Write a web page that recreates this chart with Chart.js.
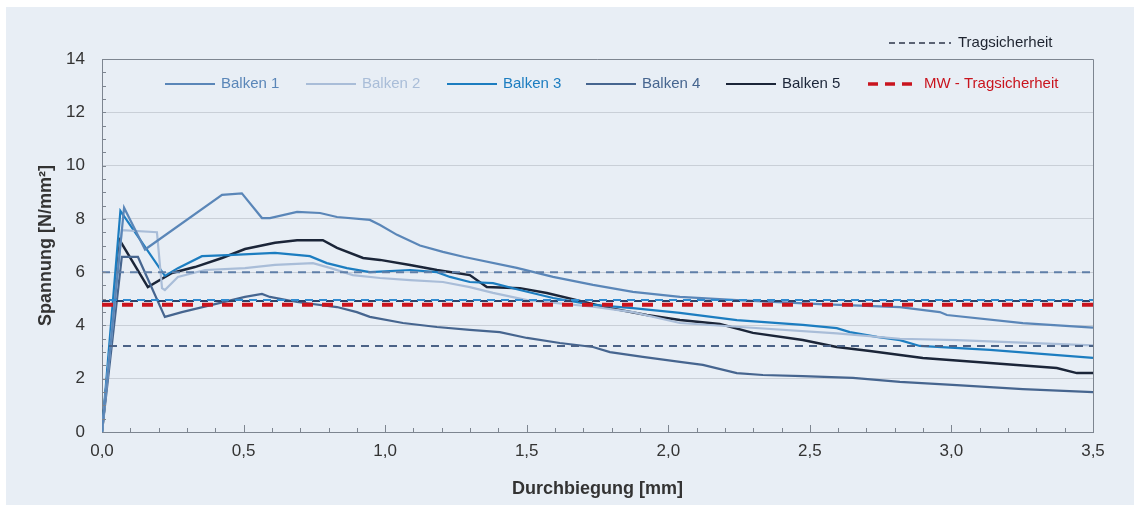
<!DOCTYPE html>
<html>
<head>
<meta charset="utf-8">
<script src="https://cdn.jsdelivr.net/npm/chart.js@4.4.1/dist/chart.umd.min.js"></script>
<style>
  html, body { margin: 0; padding: 0; background: #fff; }
  #panel { position: absolute; left: 6px; top: 7px; width: 1128px; height: 498px; background: #e8eef5; }
  #wrap { position: absolute; left: 0; top: 0; width: 1134px; height: 510px; }
</style>
</head>
<body>
<div id="panel"></div>
<div id="wrap"><canvas id="chart" width="1134" height="510"></canvas></div>
<script>
// Spannung-Durchbiegung, Balken 1-5

const b1X = [0, 0.078, 0.152, 0.424, 0.494, 0.565, 0.593, 0.689, 0.770, 0.830, 0.946, 0.982, 1.042, 1.123, 1.204, 1.28, 1.465, 1.593, 1.734, 1.875, 2.041, 2.242, 2.535, 2.818, 2.959, 2.984, 3.252, 3.5];
const b1Y = [0, 8.42, 6.85, 8.9, 8.96, 8.03, 8.03, 8.26, 8.22, 8.07, 7.96, 7.77, 7.4, 7.0, 6.76, 6.57, 6.16, 5.82, 5.52, 5.26, 5.07, 4.95, 4.8, 4.69, 4.5, 4.39, 4.09, 3.92];

const b2X = [0, 0.07, 0.194, 0.212, 0.222, 0.268, 0.364, 0.505, 0.611, 0.745, 0.805, 0.886, 0.982, 1.088, 1.204, 1.299, 1.381, 1.501, 1.734, 1.875, 2.041, 2.242, 2.595, 2.818, 3.019, 3.5];
const b2Y = [0, 7.58, 7.5, 5.4, 5.33, 5.82, 6.08, 6.15, 6.27, 6.34, 6.16, 5.89, 5.78, 5.7, 5.63, 5.44, 5.22, 4.95, 4.7, 4.5, 4.09, 3.95, 3.7, 3.5, 3.45, 3.25];

const b3X = [0, 0.065, 0.222, 0.268, 0.353, 0.445, 0.611, 0.734, 0.794, 0.865, 0.946, 1.088, 1.183, 1.229, 1.299, 1.381, 1.476, 1.593, 1.734, 1.875, 2.041, 2.242, 2.475, 2.595, 2.641, 2.737, 2.818, 2.888, 3.136, 3.5];
const b3Y = [0, 8.3, 5.86, 6.15, 6.6, 6.64, 6.72, 6.6, 6.34, 6.15, 6.0, 6.08, 6.0, 5.82, 5.63, 5.59, 5.33, 5.03, 4.77, 4.65, 4.47, 4.2, 4.02, 3.9, 3.75, 3.57, 3.45, 3.23, 3.08, 2.78];

const b4X = [0, 0.07, 0.127, 0.222, 0.282, 0.388, 0.505, 0.565, 0.593, 0.689, 0.830, 0.900, 0.946, 1.063, 1.183, 1.299, 1.405, 1.501, 1.617, 1.734, 1.794, 1.910, 2.041, 2.122, 2.242, 2.334, 2.475, 2.652, 2.818, 3.019, 3.252, 3.5];
const b4Y = [0, 6.57, 6.57, 4.32, 4.5, 4.77, 5.07, 5.18, 5.07, 4.88, 4.69, 4.5, 4.32, 4.09, 3.94, 3.83, 3.75, 3.53, 3.34, 3.19, 3.0, 2.82, 2.63, 2.52, 2.21, 2.14, 2.1, 2.03, 1.88, 1.76, 1.61, 1.5];

const b5X = [0, 0.064, 0.162, 0.247, 0.328, 0.424, 0.505, 0.611, 0.689, 0.780, 0.830, 0.922, 0.982, 1.088, 1.183, 1.299, 1.359, 1.476, 1.571, 1.677, 1.794, 1.924, 2.041, 2.182, 2.299, 2.475, 2.595, 2.712, 2.899, 3.136, 3.372, 3.443, 3.5];
const b5Y = [0, 7.17, 5.44, 5.97, 6.19, 6.53, 6.87, 7.1, 7.2, 7.2, 6.91, 6.53, 6.46, 6.27, 6.08, 5.89, 5.44, 5.4, 5.22, 4.95, 4.65, 4.39, 4.2, 4.05, 3.72, 3.45, 3.19, 3.04, 2.78, 2.59, 2.4, 2.21, 2.21];

// Tragsicherheit je Balken + Mittelwert
const tragY = [6.0, 4.95, 4.92, 3.23];
const tragColors = ['#5f7fa8', '#2f8ad0', '#2c4369', '#4b6286'];
const mwY = 4.78;
const xRange = [0, 3.5];

const names = ['Balken 1', 'Balken 2', 'Balken 3', 'Balken 4', 'Balken 5'];
const colors = ['#5a86b8', '#a9bdd8', '#1c7dc0', '#46658f', '#1b2538'];
const FONT = '"Liberation Sans", Arial, sans-serif';

const toPoints = (xs, ys) => xs.map((x, i) => ({ x: x, y: ys[i] }));

const curves = [[b1X, b1Y], [b2X, b2Y], [b3X, b3Y], [b4X, b4Y], [b5X, b5Y]];

const datasets = [];
datasets.push({
    label: 'MW - Tragsicherheit',
    data: xRange.map(x => ({ x: x, y: mwY })),
    borderColor: '#c9141e',
    borderWidth: 4,
    borderDash: [11, 9],
    legendDash: [10, 7],
    inLegend: true,
    order: 0
});
tragY.forEach((v, i) => {
    datasets.push({
        label: 'Tragsicherheit',
        data: xRange.map(x => ({ x: x, y: v })),
        borderColor: tragColors[i],
        borderWidth: 2,
        borderDash: [8, 6],
        borderDashOffset: i * 7,
        order: 1
    });
});
curves.forEach((c, i) => {
    datasets.push({
        label: names[i],
        data: toPoints(c[0], c[1]),
        borderColor: colors[i],
        borderWidth: i === 4 ? 2.5 : 2.2,
        inLegend: true,
        order: 2 + i
    });
});

// Legende, Rahmen und Hilfsstriche
const legendStarts = [165, 306, 447, 586, 726, 868];

const extras = {
    id: 'extras',
    afterDatasetsDraw(chart) {
        const { ctx, chartArea: a, scales: { x, y } } = chart;
        ctx.save();
        ctx.strokeStyle = '#7d8590';
        ctx.lineWidth = 1;
        ctx.setLineDash([]);
        ctx.beginPath();
        ctx.moveTo(a.left, Math.round(a.top) + 0.5);
        ctx.lineTo(Math.round(a.right) + 0.5, Math.round(a.top) + 0.5);
        ctx.lineTo(Math.round(a.right) + 0.5, a.bottom);
        for (let i = 1; i <= 35; i++) {
            const px = Math.round(x.getPixelForValue(i / 10)) + 0.5;
            const len = i % 5 === 0 ? 7 : 4;
            ctx.moveTo(px, a.bottom);
            ctx.lineTo(px, a.bottom - len);
        }
        for (let i = 1; i < 28; i++) {
            const py = Math.round(y.getPixelForValue(i / 2)) + 0.5;
            ctx.moveTo(a.left, py);
            ctx.lineTo(a.left + 4, py);
        }
        ctx.stroke();

        // innere Legende
        ctx.font = '15px ' + FONT;
        ctx.textBaseline = 'middle';
        const items = chart.data.datasets.filter(d => d.inLegend);
        const order = names.concat(['MW - Tragsicherheit']);
        const ly = 84;
        order.forEach((n, k) => {
            const d = items.find(it => it.label === n);
            const lx = legendStarts[k];
            ctx.strokeStyle = d.borderColor;
            ctx.lineWidth = d.legendDash ? 3.5 : 2;
            ctx.setLineDash(d.legendDash || []);
            ctx.beginPath();
            ctx.moveTo(lx, ly);
            ctx.lineTo(lx + 50, ly);
            ctx.stroke();
            ctx.fillStyle = d.borderColor;
            ctx.fillText(n, lx + 56, ly);
        });

        // obere Legende
        ctx.strokeStyle = '#2b3548';
        ctx.lineWidth = 1.6;
        ctx.setLineDash([6, 4]);
        ctx.beginPath();
        ctx.moveTo(889, 43);
        ctx.lineTo(951, 43);
        ctx.stroke();
        ctx.fillStyle = '#1e2430';
        ctx.fillText('Tragsicherheit', 958, 43);
        ctx.restore();
    }
};

new Chart(document.getElementById('chart'), {
    type: 'line',
    data: { datasets: datasets },
    options: {
        responsive: false,
        animation: false,
        layout: { padding: { left: 31, right: 41, top: 59, bottom: 6 } },
        elements: {
            point: { radius: 0, hoverRadius: 0 },
            line: { tension: 0, fill: false }
        },
        plugins: {
            legend: { display: false },
            tooltip: { enabled: false }
        },
        scales: {
            x: {
                type: 'linear',
                min: 0,
                max: 3.5,
                afterFit: s => { s.height = 72; },
                ticks: {
                    stepSize: 0.5,
                    padding: 9,
                    color: '#333',
                    font: { family: FONT, size: 17 },
                    callback: v => v.toFixed(1).replace('.', ',')
                },
                grid: { drawOnChartArea: false, drawTicks: false },
                border: { color: '#7d8590', width: 1 },
                title: {
                    display: true,
                    text: 'Durchbiegung [mm]',
                    color: '#333',
                    font: { family: FONT, size: 18, weight: 'bold' },
                    padding: { top: 4, bottom: 4 }
                }
            },
            y: {
                min: 0,
                max: 14,
                afterFit: s => { s.width = 71; },
                ticks: {
                    stepSize: 2,
                    padding: 17,
                    color: '#333',
                    font: { family: FONT, size: 17 }
                },
                grid: { color: '#c9cfd7', drawTicks: false },
                border: { color: '#7d8590', width: 1 },
                title: {
                    display: true,
                    text: 'Spannung [N/mm²]',
                    color: '#333',
                    font: { family: FONT, size: 18, weight: 'bold' },
                    padding: { top: 4, bottom: 4 }
                }
            }
        }
    },
    plugins: [extras]
});
</script>
</body>
</html>
